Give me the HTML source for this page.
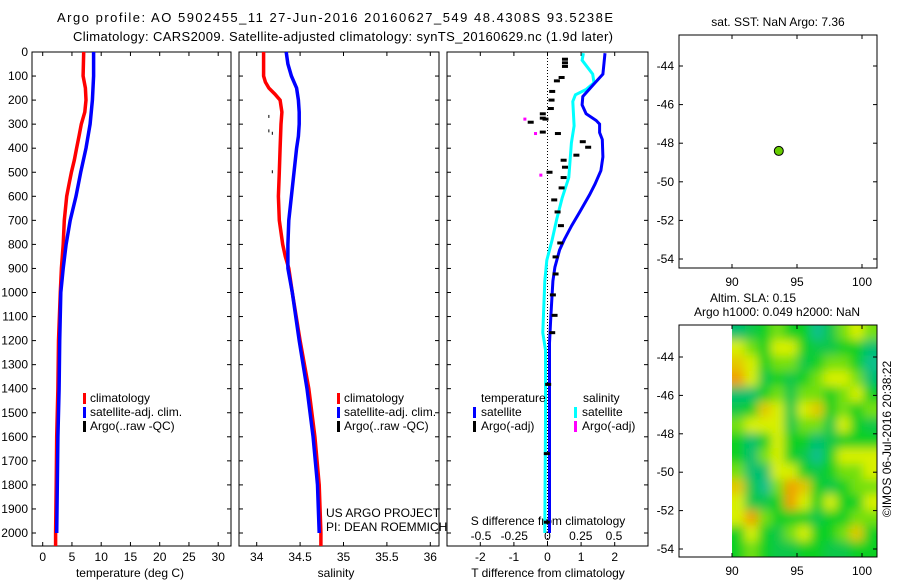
<!DOCTYPE html>
<html><head><meta charset="utf-8"><style>
body{margin:0;background:#fff}
svg{display:block;font-family:"Liberation Sans",sans-serif;font-size:12px}
</style></head><body>
<svg id="c" width="900" height="580" viewBox="0 0 900 580"></svg>
<script>
// ---- data ----
const depthT = [0,100,150,200,250,300,350,400,450,500,550,600,650,700,800,900,1000,1200,1400,1600,1800,2000,2054];
const tempClim = [7.0,6.9,7.3,7.4,7.2,6.6,6.2,5.8,5.4,4.9,4.5,4.1,3.9,3.7,3.5,3.2,3.0,2.7,2.6,2.4,2.3,2.2,2.2];
const depthTs = [0,100,200,300,400,500,600,700,800,900,1000,1200,1400,1600,1800,2000];
const tempSat = [8.7,8.7,8.5,8.1,7.4,6.5,5.7,4.7,4.0,3.5,3.1,2.9,2.8,2.6,2.5,2.4];
const depthS = [0,100,125,150,175,200,250,300,400,500,600,700,800,850,900,1000,1200,1400,1600,1800,2000,2054];
const salClim = [34.08,34.08,34.1,34.14,34.21,34.27,34.29,34.28,34.27,34.26,34.25,34.26,34.30,34.33,34.37,34.41,34.5,34.6,34.67,34.72,34.74,34.74];
const depthSs = [0,50,100,150,200,250,300,350,400,500,600,700,800,900,1000,1200,1400,1600,1800,2000];
const salSat = [34.34,34.36,34.40,34.46,34.48,34.49,34.49,34.48,34.46,34.43,34.40,34.37,34.36,34.36,34.41,34.49,34.58,34.65,34.70,34.72];
const argoSalDepth = [270,330,340,500];
const argoSal = [34.14,34.14,34.18,34.18];
const dT_depth = [5,92,135,185,220,257,285,300,335,364,436,493,550,594,665,722,780,823,895,952,1095,1210,1382,2000];
const dT_sat = [1.71,1.65,1.37,1.05,1.03,1.15,1.45,1.55,1.55,1.63,1.65,1.59,1.41,1.25,0.96,0.72,0.50,0.36,0.22,0.16,0.10,0.06,0.06,0.06];
const dS_depth = [5,34,92,128,156,178,206,307,378,450,522,608,694,780,866,952,1167,1239,1525,2000];
const dS_sat = [0.27,0.26,0.34,0.35,0.29,0.21,0.19,0.2,0.18,0.17,0.16,0.11,0.07,0.035,-0.005,-0.02,-0.035,-0.015,-0.015,-0.02];
const argoDT_depth = [30,45,60,106,120,164,200,235,257,275,279,292,333,339,373,396,429,450,479,500,522,565,615,665,722,794,852,923,1010,1095,1167,1382,1670,1955];
const argoDT = [0.52,0.52,0.52,0.42,0.28,0.14,0.12,0.10,-0.14,-0.14,-0.06,-0.5,-0.14,0.31,1.05,1.21,0.86,0.48,0.52,0.06,0.48,0.42,0.2,0.3,0.4,0.38,0.24,0.24,0.16,0.21,0.14,0.02,-0.02,-0.02];
const argoDS_depth = [279,339,512];
const argoDS = [-0.17,-0.09,-0.05];
const depthTicks = [0,100,200,300,400,500,600,700,800,900,1000,1100,1200,1300,1400,1500,1600,1700,1800,1900,2000];
const tempTicks = [0,5,10,15,20,25,30];
const salTicks = [34,34.5,35,35.5,36];
const dTTicks = [-2,-1,0,1,2];
const dSTicks = [-0.5,-0.25,0,0.25,0.5];
const dSTickLabels = ["-0.5","-0.25","0","0.25","0.5"];
const lonTicks = [90,95,100];
const latTicks = [-44,-46,-48,-50,-52,-54];
const floatLon = [93.6];
const floatLat = [-48.4];
const slaGrid = [
[1,1.5,2,2.5,2,2,0.5,1.5,2.5,3,2.5],
[3,2.5,2,3,3,2,1.5,1.5,2,2,1],
[3.5,3,2,2.5,2.5,1.5,2,2.5,2.5,2,0.5],
[4,3,1.5,2,1.5,2,2.5,3,3,2.5,1],
[1,1,2,2.5,1.5,2.5,2.5,2,2.5,3,2],
[1.5,2,3.5,3,1.5,3,3.5,2,2.5,2,2.5],
[2.5,3,3,3,1.5,2.5,2.5,1.5,3,2,1.5],
[2,1,2,3,2,2,1,1.5,2,2,2],
[2,1,2.5,3,2,1.5,0.5,2,3,3,3],
[2.5,1,1,3,3,2,1.5,2,2.5,2.5,3],
[3.5,1.5,0.5,2.5,4,3.5,2,1.5,2,2.5,2.5],
[3,1.5,1.5,2,4,3,2,3,2,2,3],
[3,4,2.5,2,2,2,1.5,2,2,2.5,2.5],
[2,3,2,1.5,2.5,3,2,2,2.5,3.5,2],
[2,2.5,2,1.5,1.5,2,2,1.5,1.5,2,2]];

// ---- helpers ----
const svg=document.getElementById('c');const NS='http://www.w3.org/2000/svg';
function mk(t,a,p){const e=document.createElementNS(NS,t);for(const k in a)e.setAttribute(k,a[k]);(p||svg).appendChild(e);return e;}
function txt(x,y,s,anchor,p){const e=mk('text',{x:x,y:y,'text-anchor':anchor||'start'},p);e.textContent=s;return e;}
const TOP=52,BOT=546;
const Y=d=>52+d*0.2405;
const PT=[32,231],PS=[239,439],PD=[447,648];
const xT=v=>42.7+v*5.85, xS=v=>256.7+(v-34)*86.8, xD=v=>547.5+v*33.6, xDS=v=>547.5+v*133;
function poly(xs,ds,fx,color,w,name){
  const pts=xs.map((v,i)=>fx(v).toFixed(1)+','+Y(ds[i]).toFixed(1)).join(' ');
  const e=mk('polyline',{points:pts,fill:'none',stroke:color,'stroke-width':w});
  
  
}
function frame(x0,x1,name){
  const g=mk('g',{});
  
  
  mk('rect',{x:x0,y:TOP,width:x1-x0,height:BOT-TOP,fill:'none',stroke:'#000','stroke-width':1},g);
  depthTicks.forEach(d=>{mk('line',{x1:x0,x2:x0+4,y1:Y(d),y2:Y(d),stroke:'#000'},g);mk('line',{x1:x1-4,x2:x1,y1:Y(d),y2:Y(d),stroke:'#000'},g);});
  return g;
}
// titles
let t=txt(57,22,'Argo profile: AO 5902455_11 27-Jun-2016 20160627_549 48.4308S 93.5238E','start');
t.setAttribute('font-size','13');
t.setAttribute('textLength','556');t.setAttribute('lengthAdjust','spacing');
t=txt(73,41,'Climatology: CARS2009. Satellite-adjusted climatology: synTS_20160629.nc (1.9d later)','start');
t.setAttribute('font-size','13');
t.setAttribute('textLength','540');t.setAttribute('lengthAdjust','spacing');

// panel 1
let g=frame(PT[0],PT[1],'temperature-panel');
depthTicks.forEach(d=>{txt(28,Y(d)+4,String(d),'end',g);});
tempTicks.forEach(v=>{mk('line',{x1:xT(v),x2:xT(v),y1:BOT,y2:BOT-4,stroke:'#000'},g);mk('line',{x1:xT(v),x2:xT(v),y1:TOP,y2:TOP+4,stroke:'#000'},g);txt(xT(v),561,String(v),'middle',g);});
t=txt(130,577,'temperature (deg C)','middle');
poly(tempClim,depthT,xT,'#f00',3.5,'temp-climatology-line');
poly(tempSat,depthTs,xT,'#00f',3.5,'temp-satellite-line');
function legend(x,y,items,name){
  const lg=mk('g',{});
  
  
  items.forEach((it,i)=>{mk('rect',{x:x,y:y+i*14-9,width:3,height:11,fill:it[0]},lg);txt(x+7,y+i*14,it[1],'start',lg);});
}
legend(83,402,[['#f00','climatology'],['#00f','satellite-adj. clim.'],['#000','Argo(..raw -QC)']],'temperature-legend');

// panel 2
g=frame(PS[0],PS[1],'salinity-panel');
salTicks.forEach(v=>{mk('line',{x1:xS(v),x2:xS(v),y1:BOT,y2:BOT-4,stroke:'#000'},g);mk('line',{x1:xS(v),x2:xS(v),y1:TOP,y2:TOP+4,stroke:'#000'},g);txt(xS(v),561,String(v),'middle',g);});
t=txt(336,577,'salinity','middle');
poly(salClim,depthS,xS,'#f00',3.5,'sal-climatology-line');
poly(salSat,depthSs,xS,'#00f',3.5,'sal-satellite-line');
argoSal.forEach((v,i)=>{const r=mk('rect',{x:xS(v)-0.5,y:Y(argoSalDepth[i])-2,width:1,height:3,fill:'#000'});
  
  });
legend(337,402,[['#f00','climatology'],['#00f','satellite-adj. clim.'],['#000','Argo(..raw -QC)']],'salinity-legend');
t=txt(326,517,'US ARGO PROJECT');
t=txt(326,531,'PI: DEAN ROEMMICH');

// panel 3
g=frame(PD[0],PD[1],'difference-panel');
mk('line',{x1:547.5,x2:547.5,y1:TOP,y2:BOT,stroke:'#000','stroke-dasharray':'1,2'},g);
dTTicks.forEach(v=>{mk('line',{x1:xD(v),x2:xD(v),y1:BOT,y2:BOT-4,stroke:'#000'},g);mk('line',{x1:xD(v),x2:xD(v),y1:TOP,y2:TOP+4,stroke:'#000'},g);txt(xD(v),561,String(v),'middle',g);});
dSTicks.forEach((v,i)=>{txt(xDS(v),540,dSTickLabels[i],'middle',g);});
t=txt(548,525,'S difference from climatology','middle');
t=txt(548,577,'T difference from climatology','middle');
poly(dS_sat,dS_depth,xDS,'#0ff',3,'sal-diff-satellite-line');
poly(dT_sat,dT_depth,xD,'#00f',3,'temp-diff-satellite-line');
argoDT.forEach((v,i)=>{const r=mk('rect',{x:xD(v)-3,y:Y(argoDT_depth[i])-1.5,width:6,height:3,fill:'#000'});
  
  });
argoDS.forEach((v,i)=>{const r=mk('rect',{x:xDS(v)-1.5,y:Y(argoDS_depth[i])-1.5,width:3,height:3,fill:'#f0f'});
  
  });
const lg3=mk('g',{});


txt(481,402,'temperature','start',lg3);txt(583,402,'salinity','start',lg3);
[['#00f','satellite',473,416],['#000','Argo(-adj)',473,430],['#0ff','satellite',574,416],['#f0f','Argo(-adj)',574,430]].forEach(a=>{mk('rect',{x:a[2],y:a[3]-9,width:3,height:11,fill:a[0]},lg3);txt(a[2]+8,a[3],a[1],'start',lg3);});

// maps
const mx=v=>732+(v-90)*13;
function mapFrame(top,bot,name,y44,sc){
  const my=v=>y44+(-44-v)*sc;
  const mg=mk('g',{});
  
  
  mk('rect',{x:679,y:top,width:198,height:bot-top,fill:'none',stroke:'#000'},mg);
  latTicks.forEach(v=>{mk('line',{x1:873,x2:877,y1:my(v),y2:my(v),stroke:'#000'},mg);mk('line',{x1:679,x2:683,y1:my(v),y2:my(v),stroke:'#000'},mg);txt(674,my(v)+4,String(v),'end',mg);});
  lonTicks.forEach(v=>{mk('line',{x1:mx(v),x2:mx(v),y1:top,y2:top+4,stroke:'#000'},mg);mk('line',{x1:mx(v),x2:mx(v),y1:bot,y2:bot-4,stroke:'#000'},mg);txt(mx(v),bot+18,String(v),'middle',mg);});
  return {mg,my};
}
const hm=mapFrame(325,557,'sla-map',357,19.2);
const defs=mk('defs',{});
const f=mk('filter',{id:'bl',x:'-10%',y:'-10%',width:'120%',height:'120%'},defs);
mk('feGaussianBlur',{stdDeviation:'5'},f);
const cp=mk('clipPath',{id:'cl'},defs);mk('rect',{x:732,y:325,width:145,height:232},cp);
const cols=['#10c0a8','#00c070','#10d020','#d8f000','#f0a000'];
function col(v){const i=Math.max(0,Math.min(3.999,v));const a=Math.floor(i),fr=i-a;
  const h=s=>[parseInt(s.substr(1,2),16),parseInt(s.substr(3,2),16),parseInt(s.substr(5,2),16)];
  const c1=h(cols[a]),c2=h(cols[a+1]);return 'rgb('+c1.map((c,k)=>Math.round(c+(c2[k]-c)*fr)).join(',')+')';}
const hg=mk('g',{'clip-path':'url(#cl)'});


mk('rect',{x:732,y:325,width:145,height:232,fill:'#10d020'},hg);
const hb=mk('g',{filter:'url(#bl)'},hg);
const nR=slaGrid.length,nC=slaGrid[0].length,cw=145/nC,ch=232/nR;
slaGrid.forEach((row,r)=>row.forEach((v,c)=>{
  let x=732+c*cw-0.5,y=325+r*ch-0.5,w=cw+1,hh=ch+1;
  if(c===0){x-=10;w+=10;} if(c===nC-1){w+=10;} if(r===0){y-=10;hh+=10;} if(r===nR-1){hh+=10;}
  const cell=mk('rect',{x:x,y:y,width:w,height:hh,fill:col(v)},hb);
  
  }));
svg.appendChild(hm.mg);
const sst=mapFrame(35,268,'sst-map',66,19.3);
floatLon.forEach((v,i)=>{const c=mk('circle',{cx:mx(v),cy:sst.my(floatLat[i]),r:4.5,fill:'#6c0',stroke:'#000','stroke-width':1});
  
  });
t=txt(778,26,'sat. SST: NaN Argo: 7.36','middle');
t=txt(753,302,'Altim. SLA: 0.15','middle');
t=txt(777,316,'Argo h1000: 0.049 h2000: NaN','middle');
t=txt(0,0,'©IMOS 06-Jul-2016 20:38:22','middle');t.setAttribute('transform','translate(891,439) rotate(-90)');

</script>
</body></html>
